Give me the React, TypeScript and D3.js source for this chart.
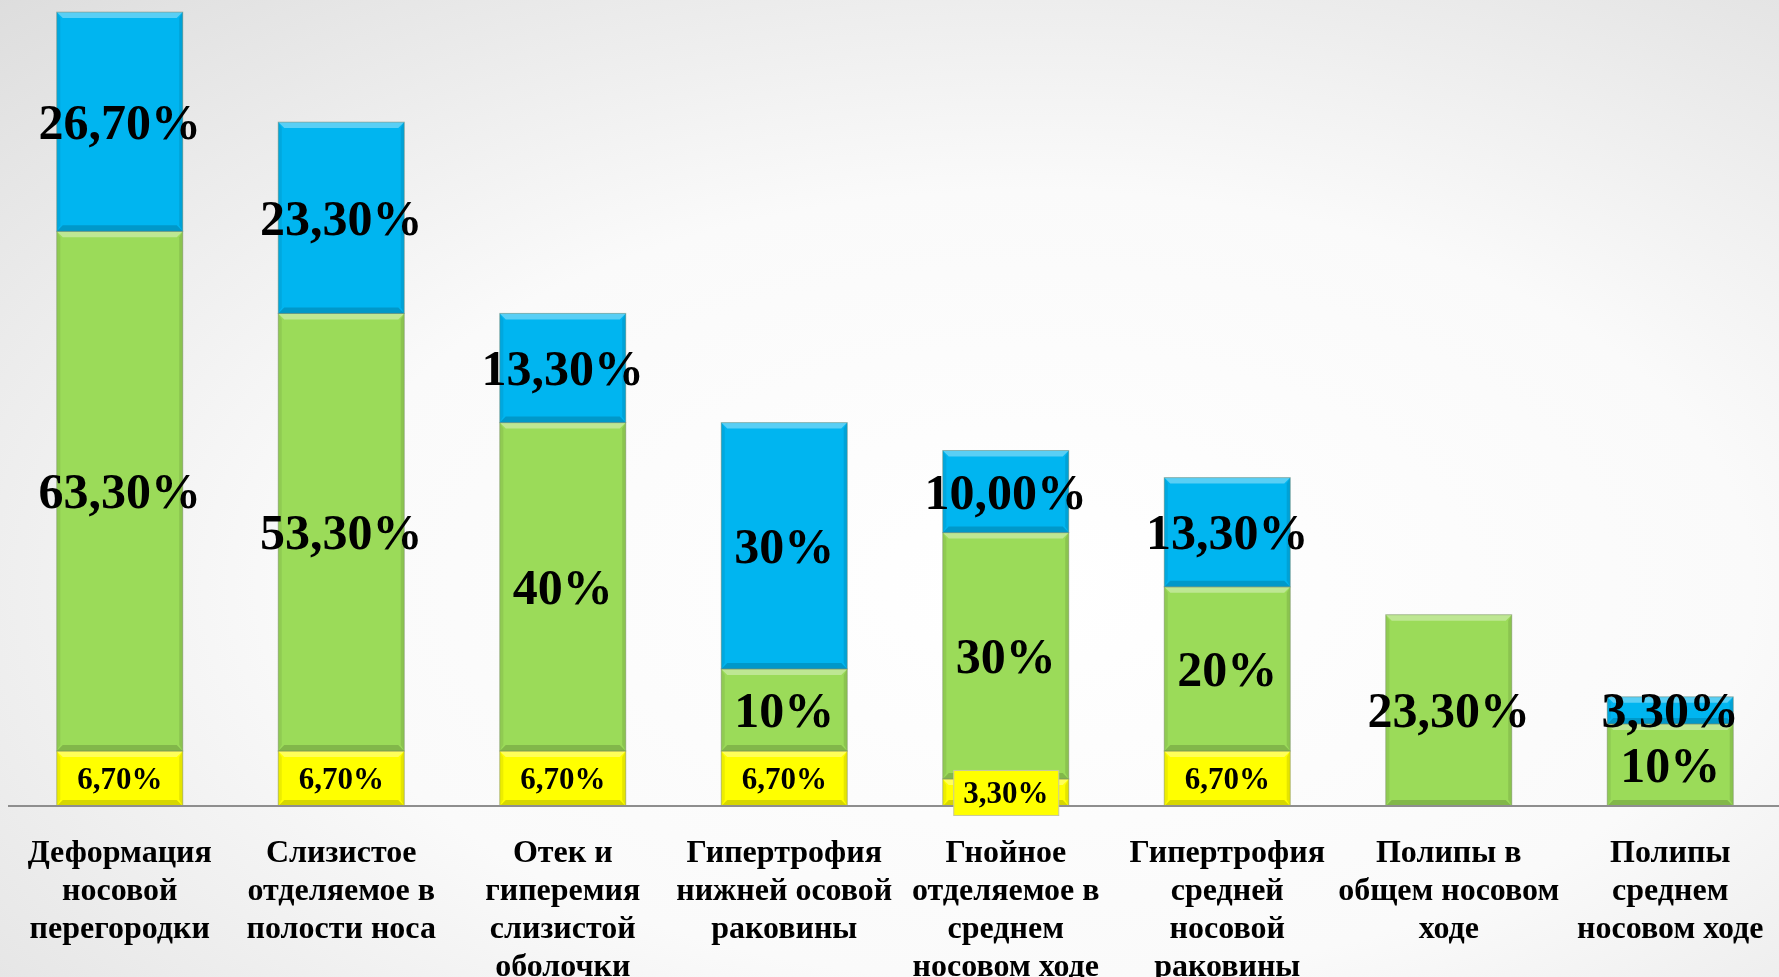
import React from "react";
import * as d3 from "d3";

const categories = [
  ["Деформация", "носовой", "перегородки"],
  ["Слизистое", "отделяемое в", "полости носа"],
  ["Отек и", "гиперемия", "слизистой", "оболочки"],
  ["Гипертрофия", "нижней осовой", "раковины"],
  ["Гнойное", "отделяемое в", "среднем", "носовом ходе"],
  ["Гипертрофия", "средней", "носовой", "раковины"],
  ["Полипы в", "общем носовом", "ходе"],
  ["Полипы", "среднем", "носовом ходе"],
];

const yellowValues = [6.7, 6.7, 6.7, 6.7, 3.3, 6.7, 0, 0];
const greenValues = [63.3, 53.3, 40, 10, 30, 20, 23.3, 10];
const blueValues = [26.7, 23.3, 13.3, 30, 10, 13.3, 0, 3.3];

const yellowLabels = ["6,70%", "6,70%", "6,70%", "6,70%", "3,30%", "6,70%", "", ""];
const greenLabels = ["63,30%", "53,30%", "40%", "10%", "30%", "20%", "23,30%", "10%"];
const blueLabels = ["26,70%", "23,30%", "13,30%", "30%", "10,00%", "13,30%", "", "3,30%"];

const W = 1779;
const H = 977;
const FONT = "'Liberation Serif', 'Times New Roman', serif";

type Seg = { key: string; values: number[]; labels: string[]; color: string; fontSize: number };

const series: Seg[] = [
  { key: "yellow", values: yellowValues, labels: yellowLabels, color: "#ffff00", fontSize: 31 },
  { key: "green", values: greenValues, labels: greenLabels, color: "#9bdb59", fontSize: 50 },
  { key: "blue", values: blueValues, labels: blueLabels, color: "#00b5f0", fontSize: 50 },
];

export default function App() {
  const idx = categories.map((_, i) => String(i));
  const x = d3.scaleBand<string>().domain(idx).range([9, 1781]).paddingInner(0.431).paddingOuter(0.2155);
  const y = d3.scaleLinear().domain([0, 100]).range([806, -15]);
  const bw = x.bandwidth();

  const rows = idx.map((_, i) => {
    const r: Record<string, number> = {};
    series.forEach((s) => (r[s.key] = s.values[i]));
    return r;
  });
  const stacked = d3.stack<Record<string, number>>().keys(series.map((s) => s.key))(rows);

  const bev = 6;

  return (
    <svg
      width={W}
      height={H}
      style={{ display: "block", position: "fixed", left: 0, top: 0 }}
    >
      <defs>
        <radialGradient id="bg" cx="0.58" cy="0.6" r="0.9">
          <stop offset="0" stopColor="#ffffff" />
          <stop offset="0.45" stopColor="#fafafa" />
          <stop offset="1" stopColor="#d9d9d9" />
        </radialGradient>
      </defs>
      <rect x={0} y={0} width={W} height={H} fill="url(#bg)" />

      {stacked.map((layer, li) =>
        layer.map((d, i) => {
          const v = d[1] - d[0];
          if (v <= 0) return null;
          const x0 = x(String(i))!;
          const yt = y(d[1]);
          const yb = y(d[0]);
          const h = yb - yt;
          const b = Math.min(bev, h / 3);
          return (
            <g key={`${li}-${i}`}>
              <rect x={x0} y={yt} width={bw} height={h} fill={series[li].color} />
              <polygon
                points={`${x0},${yt} ${x0 + bw},${yt} ${x0 + bw - b},${yt + b} ${x0 + b},${yt + b}`}
                fill="#ffffff"
                opacity={0.35}
              />
              <polygon
                points={`${x0},${yb} ${x0 + bw},${yb} ${x0 + bw - b},${yb - b} ${x0 + b},${yb - b}`}
                fill="#000000"
                opacity={0.16}
              />
              <polygon
                points={`${x0},${yt} ${x0 + b * 0.6},${yt + b} ${x0 + b * 0.6},${yb - b} ${x0},${yb}`}
                fill="#000000"
                opacity={0.07}
              />
              <polygon
                points={`${x0 + bw},${yt} ${x0 + bw - b * 0.6},${yt + b} ${x0 + bw - b * 0.6},${yb - b} ${x0 + bw},${yb}`}
                fill="#000000"
                opacity={0.1}
              />
              <rect x={x0} y={yt} width={bw} height={h} fill="none" stroke="#6f7f60" strokeOpacity={0.45} strokeWidth={1} />
            </g>
          );
        })
      )}

      <line x1={8} x2={W} y1={y(0)} y2={y(0)} stroke="#8e8e8e" strokeWidth={2} />

      {stacked.map((layer, li) =>
        layer.map((d, i) => {
          const s = series[li];
          const label = s.labels[i];
          if (!label || d[1] - d[0] <= 0) return null;
          const cx = x(String(i))! + bw / 2;
          const cy = (y(d[0]) + y(d[1])) / 2;
          const h = y(d[0]) - y(d[1]);
          const boxed = s.key === "yellow" && h < 40;
          return (
            <g key={`l${li}-${i}`}>
              {boxed && (
                <rect x={cx - 52} y={cy - 22} width={105} height={45} fill="#ffff00" stroke="#c8c8a0" strokeWidth={1} />
              )}
              <text
                x={cx}
                y={cy}
                dy={s.fontSize * 0.34}
                textAnchor="middle"
                fontFamily={FONT}
                fontWeight="bold"
                fontSize={s.fontSize}
                fill="#000"
              >
                {label}
              </text>
            </g>
          );
        })
      )}

      {categories.map((lines, i) => {
        const cx = x(String(i))! + bw / 2;
        return (
          <text key={`c${i}`} textAnchor="middle" fontFamily={FONT} fontWeight="bold" fontSize={32} fill="#000">
            {lines.map((ln, j) => (
              <tspan key={j} x={cx} y={862 + j * 38}>
                {ln}
              </tspan>
            ))}
          </text>
        );
      })}
    </svg>
  );
}
